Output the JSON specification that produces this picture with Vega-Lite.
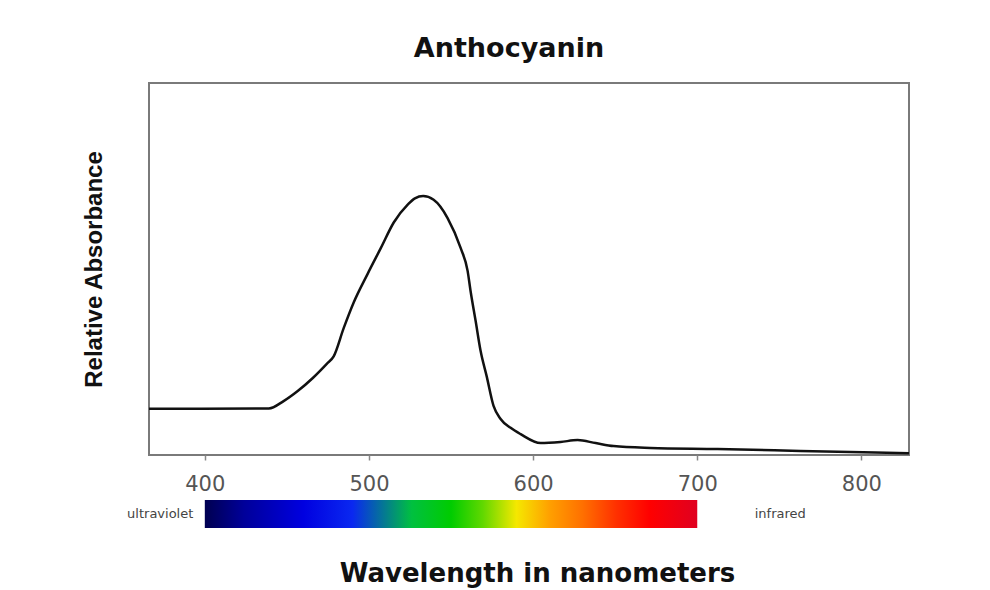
{
  "$schema": "https://vega.github.io/schema/vega-lite/v6.json",
  "background": "white",
  "padding": {"left": 81, "top": 34, "right": 5, "bottom": 5},
  "spacing": 5,
  "config": {"font": "DejaVu Sans"},
  "datasets": {
    "spectrum": [
      {"wavelength": 366, "absorbance": 0.124},
      {"wavelength": 398, "absorbance": 0.124},
      {"wavelength": 439, "absorbance": 0.125},
      {"wavelength": 448, "absorbance": 0.145},
      {"wavelength": 456.6, "absorbance": 0.172},
      {"wavelength": 465.8, "absorbance": 0.207},
      {"wavelength": 474.3, "absorbance": 0.245},
      {"wavelength": 478.5, "absorbance": 0.265},
      {"wavelength": 484.6, "absorbance": 0.341},
      {"wavelength": 490.7, "absorbance": 0.410},
      {"wavelength": 499.2, "absorbance": 0.487},
      {"wavelength": 507.2, "absorbance": 0.556},
      {"wavelength": 515.1, "absorbance": 0.625},
      {"wavelength": 523.6, "absorbance": 0.673},
      {"wavelength": 528.0, "absorbance": 0.690},
      {"wavelength": 533.0, "absorbance": 0.696},
      {"wavelength": 539.4, "absorbance": 0.686},
      {"wavelength": 547.9, "absorbance": 0.637},
      {"wavelength": 555.9, "absorbance": 0.556},
      {"wavelength": 560.1, "absorbance": 0.495},
      {"wavelength": 561.9, "absorbance": 0.441},
      {"wavelength": 565.0, "absorbance": 0.360},
      {"wavelength": 568.0, "absorbance": 0.280},
      {"wavelength": 571.7, "absorbance": 0.212},
      {"wavelength": 575.9, "absorbance": 0.132},
      {"wavelength": 580.2, "absorbance": 0.097},
      {"wavelength": 586.3, "absorbance": 0.073},
      {"wavelength": 592.4, "absorbance": 0.056},
      {"wavelength": 604.6, "absorbance": 0.032},
      {"wavelength": 616.7, "absorbance": 0.035},
      {"wavelength": 627.1, "absorbance": 0.040},
      {"wavelength": 638.1, "absorbance": 0.032},
      {"wavelength": 649.0, "absorbance": 0.024},
      {"wavelength": 671.5, "absorbance": 0.019},
      {"wavelength": 712.3, "absorbance": 0.016},
      {"wavelength": 762.8, "absorbance": 0.011},
      {"wavelength": 829, "absorbance": 0.005}
    ],
    "band": [{"start": 400, "end": 700}],
    "ends": [
      {"label": "ultraviolet", "wl": 393, "side": "left"},
      {"label": "infrared", "wl": 735, "side": "right"}
    ]
  },
  "vconcat": [
    {
      "width": 760,
      "height": 372,
      "title": {"text": "Anthocyanin", "font": "DejaVu Sans", "fontSize": 27, "fontWeight": "bold", "color": "#111", "anchor": "middle", "dx": -20, "offset": 20},
      "view": {"stroke": "#7a7a7a", "strokeWidth": 2},
      "data": {"name": "spectrum"},
      "mark": {"type": "line", "color": "#111", "strokeWidth": 2.5, "interpolate": "monotone"},
      "encoding": {
        "x": {
          "field": "wavelength", "type": "quantitative",
          "scale": {"domain": [366, 829], "nice": false, "zero": false},
          "axis": {"title": null, "values": [400, 500, 600, 700, 800], "domain": false, "grid": false, "tickColor": "#888", "tickSize": 5, "tickWidth": 1.5, "labelFontSize": 21, "labelColor": "#555", "labelPadding": 13, "labelFont": "DejaVu Sans"}
        },
        "y": {
          "field": "absorbance", "type": "quantitative",
          "scale": {"domain": [0, 1], "nice": false},
          "axis": {"title": "Relative Absorbance", "labels": false, "ticks": false, "domain": false, "grid": false, "titleFont": "Liberation Sans", "titleFontSize": 24, "titleFontWeight": "bold", "titleColor": "#111", "titlePadding": 43}
        }
      }
    },
    {
      "width": 760,
      "height": 28,
      "view": {"stroke": null},
      "layer": [
        {
          "data": {"name": "band"},
          "mark": {
            "type": "rect",
            "color": {
              "gradient": "linear", "x1": 0, "x2": 1, "y1": 0, "y2": 0,
              "stops": [
                {"offset": 0, "color": "#000050"},
                {"offset": 0.08, "color": "#00009a"},
                {"offset": 0.2, "color": "#0000e0"},
                {"offset": 0.3, "color": "#0a28f0"},
                {"offset": 0.42, "color": "#00c040"},
                {"offset": 0.5, "color": "#00cc00"},
                {"offset": 0.564, "color": "#60d800"},
                {"offset": 0.633, "color": "#f5e800"},
                {"offset": 0.7, "color": "#ffa000"},
                {"offset": 0.767, "color": "#ff7000"},
                {"offset": 0.836, "color": "#ff3000"},
                {"offset": 0.903, "color": "#ff0000"},
                {"offset": 1, "color": "#e00020"}
              ]
            }
          },
          "encoding": {
            "x": {"field": "start", "type": "quantitative", "scale": {"domain": [366, 829], "nice": false, "zero": false},
                  "axis": {"title": "Wavelength in nanometers", "labels": false, "ticks": false, "domain": false, "grid": false, "titleFont": "DejaVu Sans", "titleFontSize": 26, "titleFontWeight": "bold", "titleColor": "#111", "titlePadding": 32, "titleX": 388}},
            "x2": {"field": "end"}
          }
        },
        {
          "data": {"name": "ends"},
          "transform": [{"filter": "datum.side == 'left'"}],
          "mark": {"type": "text", "align": "right", "baseline": "middle", "fontSize": 13, "color": "#444"},
          "encoding": {
            "x": {"field": "wl", "type": "quantitative",
                  "axis": {"title": "Wavelength in nanometers", "labels": false, "ticks": false, "domain": false, "grid": false, "titleFont": "DejaVu Sans", "titleFontSize": 26, "titleFontWeight": "bold", "titleColor": "#111", "titlePadding": 32, "titleX": 388}},
            "text": {"field": "label"}
          }
        },
        {
          "data": {"name": "ends"},
          "transform": [{"filter": "datum.side == 'right'"}],
          "mark": {"type": "text", "align": "left", "baseline": "middle", "fontSize": 13, "color": "#444"},
          "encoding": {
            "x": {"field": "wl", "type": "quantitative",
                  "axis": {"title": "Wavelength in nanometers", "labels": false, "ticks": false, "domain": false, "grid": false, "titleFont": "DejaVu Sans", "titleFontSize": 26, "titleFontWeight": "bold", "titleColor": "#111", "titlePadding": 32, "titleX": 388}},
            "text": {"field": "label"}
          }
        }
      ]
    }
  ]
}
